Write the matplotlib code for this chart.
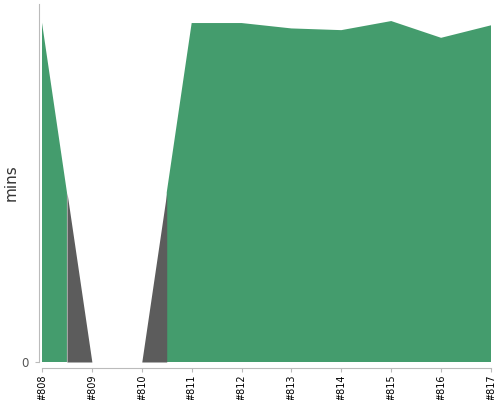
import matplotlib
matplotlib.use("Agg")
import matplotlib.pyplot as plt
import numpy as np

# build durations (mins) and result for each build
builds = ["#808", "#809", "#810", "#811", "#812", "#813", "#814", "#815", "#816", "#817"]
durations = [11.94, 0.0, 0.0, 11.93, 11.93, 11.74, 11.68, 12.0, 11.41, 11.85]
results = ["success", "failure", "failure", "success", "success",
           "success", "success", "success", "success", "success"]

colors = {"success": "#449c6d", "failure": "#5c5c5c"}

fig = plt.figure(figsize=(5, 4), dpi=100)
ax = fig.add_axes((0.084, 0.095, 0.898, 0.895))

# spines first: set_position resets the ticks
for side in ("top", "right"):
    ax.spines[side].set_visible(False)
ax.spines["left"].set_color("#bbbbbb")
ax.spines["bottom"].set_color("#bbbbbb")
ax.spines["left"].set_position(("outward", 2.5))
ax.spines["bottom"].set_position(("outward", 4))

x = np.arange(len(builds))
y = np.array(durations, dtype=float)

# add midpoints: each build colours the half segments on either side of it
xs, ys, owner = [], [], []
for i in range(len(x)):
    xs.append(x[i]); ys.append(y[i]); owner.append((results[i],))
    if i < len(x) - 1:
        xs.append((x[i] + x[i + 1]) / 2)
        ys.append((y[i] + y[i + 1]) / 2)
        owner.append((results[i], results[i + 1]))
xs = np.array(xs); ys = np.array(ys)

for status, col in colors.items():
    mask = np.array([status in o for o in owner])
    ax.fill_between(xs, ys, 0, where=mask, color=col, linewidth=0)

ax.set_xlim(x[0], x[-1])
ax.set_ylim(0, max(durations) * 1.05)

ax.set_xticks(x)
ax.set_xticklabels(builds, rotation=90, fontsize=7, color="black")
ax.set_yticks([0])
ax.set_yticklabels(["0"], fontsize=8.5, color="#555555")
ax.tick_params(axis="x", length=3, color="#bbbbbb", pad=2)
ax.tick_params(axis="y", length=3, color="#bbbbbb", pad=4)

ax.set_ylabel("mins", fontsize=11, color="#333333")
ax.yaxis.set_label_coords(-0.051, 0.5)

fig.savefig("out.png", dpi=100)
